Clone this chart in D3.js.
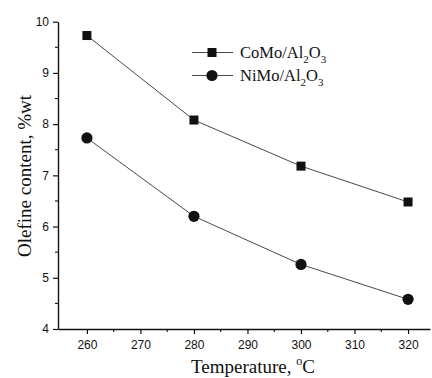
<!DOCTYPE html>
<html>
<head>
<meta charset="utf-8">
<script src="https://cdn.jsdelivr.net/npm/d3@7"></script>
<style>
  html, body { margin: 0; padding: 0; background: #fff; }
  svg { display: block; }
</style>
</head>
<body>
<div id="chart"></div>
<script>
// data
const temps = [260, 280, 300, 320];
const como = [9.73, 8.08, 7.18, 6.48];
const nimo = [7.73, 6.20, 5.26, 4.58];
const xTicks = [260, 270, 280, 290, 300, 310, 320];
const yTicks = [4, 5, 6, 7, 8, 9, 10];

const width = 432, height = 378;
const svg = d3.select('#chart').append('svg')
  .attr('width', width).attr('height', height);

const x = d3.scaleLinear().domain([254.6, 324.1]).range([58, 430]);
const y = d3.scaleLinear().domain([4, 10]).range([329, 21.7]);

const ink = '#111';

// axes
const gx = svg.append('g').attr('transform', `translate(0,${y(4)})`)
  .call(d3.axisBottom(x).tickValues(xTicks).tickFormat(d3.format('d'))
    .tickSize(5).tickSizeOuter(0).tickPadding(6));
const gy = svg.append('g').attr('transform', `translate(${x.range()[0]},0)`)
  .call(d3.axisLeft(y).tickValues(yTicks).tickFormat(d3.format('d'))
    .tickSize(5).tickSizeOuter(0).tickPadding(4));

[gx, gy].forEach(g => {
  g.select('.domain').attr('stroke', ink).attr('stroke-width', 1.4);
  g.selectAll('.tick line').attr('stroke', ink).attr('stroke-width', 1.2);
  g.selectAll('.tick text').attr('fill', ink)
    .style('font-family', '"Liberation Sans", Arial, sans-serif').style('font-size', '12px');
});

// minor ticks
svg.append('g').selectAll('line')
  .data(d3.range(265, 325, 10)).join('line')
  .attr('x1', d => x(d)).attr('x2', d => x(d))
  .attr('y1', y(4)).attr('y2', y(4) + 3)
  .attr('stroke', ink).attr('stroke-width', 1.1);
svg.append('g').selectAll('line')
  .data(d3.range(4.5, 10, 1)).join('line')
  .attr('x1', x.range()[0]).attr('x2', x.range()[0] - 3)
  .attr('y1', d => y(d)).attr('y2', d => y(d))
  .attr('stroke', ink).attr('stroke-width', 1.1);

// series
const line = d3.line().x((d, i) => x(temps[i])).y(d => y(d));
[como, nimo].forEach(s => {
  svg.append('path').datum(s).attr('d', line)
    .attr('fill', 'none').attr('stroke', '#333').attr('stroke-width', 0.9);
});

const sq = 9;
svg.append('g').selectAll('rect').data(como).join('rect')
  .attr('x', (d, i) => x(temps[i]) - sq / 2).attr('y', d => y(d) - sq / 2)
  .attr('width', sq).attr('height', sq).attr('fill', ink);
svg.append('g').selectAll('circle').data(nimo).join('circle')
  .attr('cx', (d, i) => x(temps[i])).attr('cy', d => y(d))
  .attr('r', 5.6).attr('fill', ink);

// legend
const serif = '"Liberation Serif", "Times New Roman", serif';
const legend = [
  { name: 'CoMo', y: 52.5, shape: 'square' },
  { name: 'NiMo', y: 75.5, shape: 'circle' }
];
legend.forEach(l => {
  svg.append('line').attr('x1', 192).attr('x2', 233).attr('y1', l.y).attr('y2', l.y)
    .attr('stroke', '#333').attr('stroke-width', 0.9);
  if (l.shape === 'square') {
    svg.append('rect').attr('x', 212 - sq / 2).attr('y', l.y - sq / 2)
      .attr('width', sq).attr('height', sq).attr('fill', ink);
  } else {
    svg.append('circle').attr('cx', 212).attr('cy', l.y).attr('r', 5.6).attr('fill', ink);
  }
  const t = svg.append('text').attr('x', 240).attr('y', l.y + 5.5)
    .style('font-family', serif).style('font-size', '16.5px').attr('fill', ink);
  t.append('tspan').text(l.name + '/Al');
  t.append('tspan').text('2').attr('dy', 5).style('font-size', '11px');
  t.append('tspan').text('O').attr('dy', -5);
  t.append('tspan').text('3').attr('dy', 5).style('font-size', '11px');
});

// axis titles
const xt = svg.append('text').attr('x', 253).attr('y', 373).attr('text-anchor', 'middle')
  .style('font-family', serif).style('font-size', '19px').attr('fill', ink);
xt.append('tspan').text('Temperature, ');
xt.append('tspan').text('o').attr('dy', -8).style('font-size', '12px');
xt.append('tspan').text('C').attr('dy', 8);

svg.append('text')
  .attr('transform', `translate(31,176) rotate(-90)`)
  .attr('text-anchor', 'middle')
  .style('font-family', serif).style('font-size', '19px').attr('fill', ink)
  .text('Olefine content, %wt');
</script>
</body>
</html>
